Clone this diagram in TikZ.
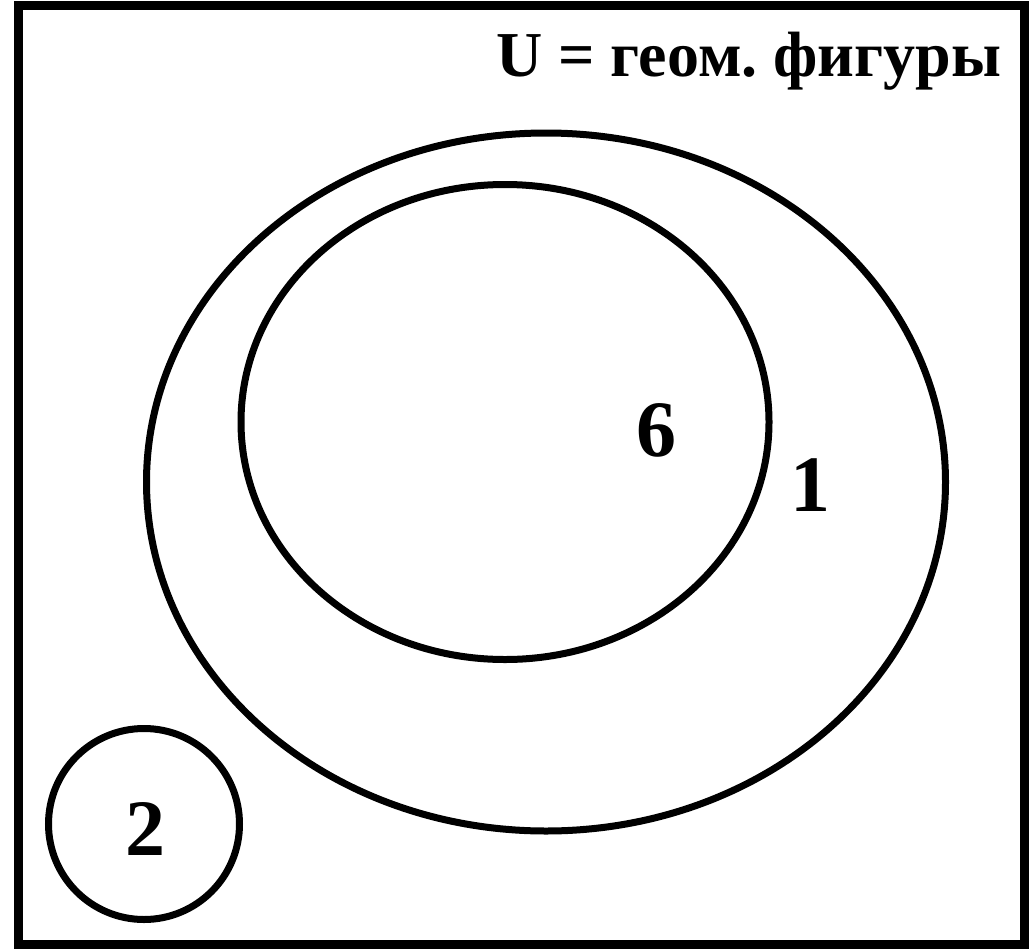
\documentclass[tikz,border=0pt]{standalone}
\usepackage{fontspec}
\setmainfont{Liberation Serif}
\usetikzlibrary{shapes.geometric}
\frenchspacing

\begin{document}
\begin{tikzpicture}[
    x=1pt, y=-1pt,
    set/.style={draw, ellipse, line width=7pt, inner sep=0pt},
    num/.style={font=\fontsize{80}{88}\selectfont\bfseries},
]
\useasboundingbox (0,0) rectangle (1030,950);

% Universe frame
\node[draw, line width=9pt, minimum width=1006pt, minimum height=938pt, inner sep=0pt] (univ) at (521,475) {};
\node[font=\fontsize{64}{70}\selectfont\bfseries, anchor=base east] (title) at (1005,76) {U = геом. фигуры};

% Sets
\node[set, minimum width=799pt, minimum height=698pt] (outer) at (546,482) {};
\node[set, minimum width=528pt, minimum height=475pt] (inner) at (505,422) {};
\node[set, circle, minimum size=191pt] (small) at (144,824) {};

% Counts
\node[num] (six) at (656,430) {6};
\node[num] (one) at (810,485) {1};
\node[num] (two) at (145,829) {2};

\end{tikzpicture}
\end{document}
